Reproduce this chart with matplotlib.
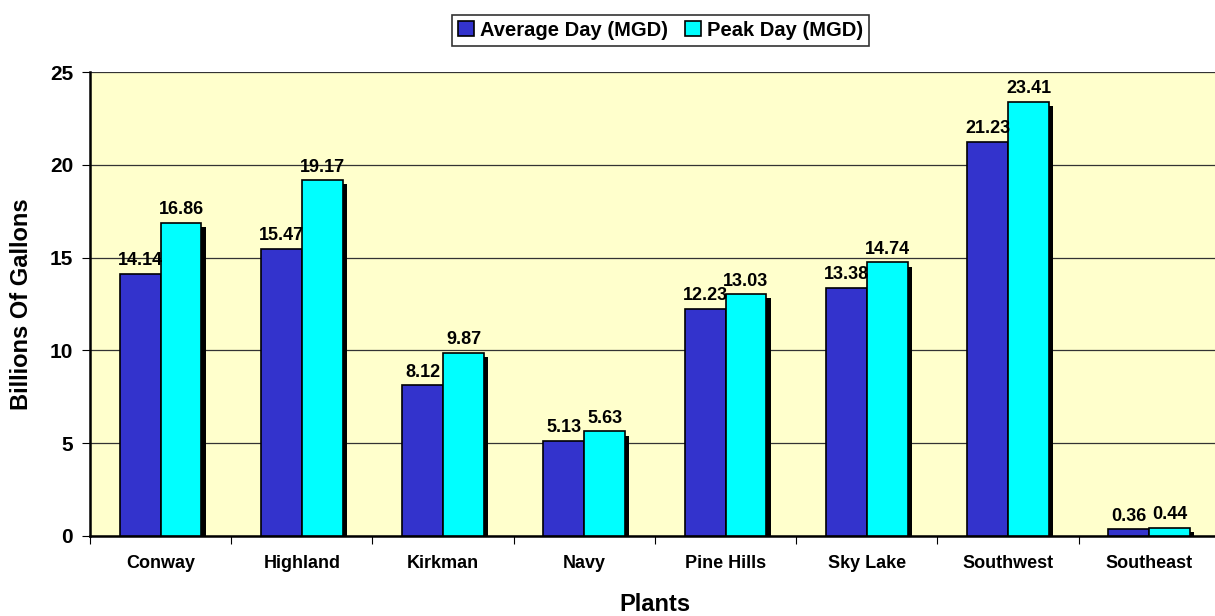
import matplotlib.pyplot as plt
import matplotlib.patheffects as pe
import numpy as np

plt.rcParams['font.family'] = ['Liberation Sans', 'DejaVu Sans']
plt.rcParams['font.weight'] = 'bold'

plants = ['Conway', 'Highland', 'Kirkman', 'Navy', 'Pine Hills', 'Sky Lake', 'Southwest', 'Southeast']
average_day = [14.14, 15.47, 8.12, 5.13, 12.23, 13.38, 21.23, 0.36]
peak_day = [16.86, 19.17, 9.87, 5.63, 13.03, 14.74, 23.41, 0.44]

fig = plt.figure(figsize=(12.15, 6.16), dpi=100)
ax = fig.add_axes([0.074, 0.130, 0.93, 0.753])
ax.set_facecolor('#FFFFCC')

x = np.arange(len(plants))
w = 0.29
shadow = [pe.SimplePatchShadow(offset=(3, -3), shadow_rgbFace='black', alpha=1.0), pe.Normal()]

b1 = ax.bar(x - w / 2, average_day, w, color='#3333CC', edgecolor='black', linewidth=1.2,
            label='Average Day (MGD)', zorder=3, path_effects=shadow)
b2 = ax.bar(x + w / 2, peak_day, w, color='#00FFFF', edgecolor='black', linewidth=1.2,
            label='Peak Day (MGD)', zorder=3, path_effects=shadow)

for i in range(len(plants)):
    ax.text(x[i] - w / 2, average_day[i] + 0.25, '%.2f' % average_day[i], ha='center', va='bottom',
            fontsize=13, fontweight='bold', zorder=5)
    ax.text(x[i] + w / 2, peak_day[i] + 0.25, '%.2f' % peak_day[i], ha='center', va='bottom',
            fontsize=13, fontweight='bold', zorder=5)

ax.set_xlim(-0.5, len(plants) - 0.5)
ax.set_ylim(0, 25)
ax.set_yticks([0, 5, 10, 15, 20, 25])
ax.yaxis.grid(True, color='#333333', linewidth=0.9, zorder=0)
ax.set_axisbelow(True)

ax.set_xticks(x)
ax.set_xticklabels(plants, fontsize=13, fontweight='bold')
ax.set_xticks(np.arange(-0.5, len(plants), 1), minor=True)
ax.tick_params(axis='x', which='major', length=0, pad=14)
ax.tick_params(axis='x', which='minor', length=6, width=0.8, direction='out')
ax.tick_params(axis='y', labelsize=15, length=6, width=0.8, direction='out', pad=6)
for lbl in ax.get_yticklabels():
    lbl.set_fontweight('bold')

ax.spines['top'].set_visible(False)
ax.spines['right'].set_visible(False)
ax.spines['left'].set_linewidth(1.8)
ax.spines['bottom'].set_linewidth(1.8)

ax.set_xlabel('Plants', fontsize=17, fontweight='bold', labelpad=15)
ax.set_ylabel('Billions Of Gallons', fontsize=17, fontweight='bold', labelpad=12)

leg = ax.legend(loc='lower center', bbox_to_anchor=(0.505, 1.035), ncol=2, fontsize=14.5,
                frameon=True, fancybox=False, edgecolor='black', handlelength=0.8,
                handleheight=0.8, handletextpad=0.3, columnspacing=0.8, borderpad=0.3)
leg.get_frame().set_linewidth(1.2)
for h in leg.legend_handles:
    h.set_path_effects([])

fig.savefig('out.png', dpi=100)
